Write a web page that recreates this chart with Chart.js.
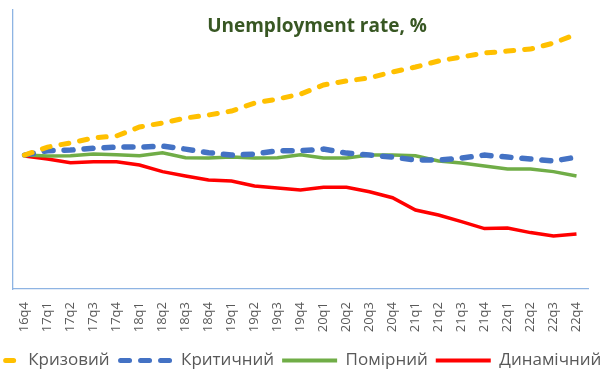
<!DOCTYPE html>
<html>
<head>
<meta charset="utf-8">
<script src="https://cdn.jsdelivr.net/npm/chart.js@4.4.1/dist/chart.umd.min.js"></script>
<style>
  html, body { margin: 0; padding: 0; background: #fff; overflow: hidden; width: 611px; height: 387px; }
  /* canvas is wider than the window so the legend can run off both edges like the original */
  #wrap { position: absolute; left: -45px; top: 0; width: 700px; height: 387px; }
</style>
</head>
<body>
<div id="wrap"><canvas id="chart" width="700" height="387"></canvas></div>
<script>
var quarters = ['16q4', '17q1', '17q2', '17q3', '17q4', '18q1', '18q2', '18q3', '18q4',
  '19q1', '19q2', '19q3', '19q4', '20q1', '20q2', '20q3', '20q4',
  '21q1', '21q2', '21q3', '21q4', '22q1', '22q2', '22q3', '22q4'];

// values (no axis labels in the original)
var crisis = [6.72, 7.12, 7.33, 7.58, 7.68, 8.13, 8.33, 8.58, 8.73, 8.93, 9.33, 9.53, 9.78,
  10.24, 10.44, 10.59, 10.89, 11.14, 11.44, 11.64, 11.84, 11.94, 12.04, 12.34, 12.79];
var critical = [6.72, 6.94, 6.97, 7.07, 7.12, 7.12, 7.17, 7.02, 6.84, 6.72, 6.77, 6.94, 6.94,
  7.02, 6.82, 6.72, 6.62, 6.47, 6.47, 6.57, 6.72, 6.62, 6.52, 6.42, 6.62];
var moderate = [6.72, 6.67, 6.69, 6.77, 6.74, 6.69, 6.84, 6.59, 6.57, 6.62, 6.57, 6.59, 6.74,
  6.57, 6.57, 6.72, 6.72, 6.69, 6.42, 6.32, 6.17, 6.02, 6.02, 5.89, 5.67];
var dynamic = [6.67, 6.52, 6.34, 6.39, 6.39, 6.22, 5.89, 5.67, 5.47, 5.42, 5.17, 5.07, 4.97,
  5.10, 5.10, 4.88, 4.58, 3.96, 3.71, 3.38, 3.03, 3.06, 2.83, 2.66, 2.76];

var axisColor = '#8EB4E3';
var textColor = '#595959';

// title sits inside the plot area in the original, so draw it by hand
var titlePlugin = {
  id: 'titleText',
  afterDraw: function(chart) {
    var ctx = chart.ctx;
    ctx.save();
    ctx.font = 'bold 19px "Open Sans"';
    ctx.fillStyle = '#385723';
    ctx.textAlign = 'center';
    ctx.textBaseline = 'middle';
    ctx.fillText('Unemployment rate, %', 362, 27);
    ctx.restore();
  }
};

// legend is not centred on the chart in the original
var legendShift = {
  id: 'legendShift',
  afterLayout: function(chart) {
    chart.legend.left -= 22;
    chart.legend.right -= 22;
  }
};

// point-style legend items lose the dataset dash, put it back
function legendLabels(chart) {
  var items = Chart.defaults.plugins.legend.labels.generateLabels(chart);
  items.forEach(function(item, i) {
    var ds = chart.data.datasets[i];
    item.lineDash = ds.borderDash || [];
    item.lineDashOffset = -3;
    item.lineCap = ds.borderCapStyle || 'butt';
    item.lineWidth = ds.borderDash ? 5 : 4;
  });
  return items;
}

var ctx = document.getElementById('chart');
var chart = new Chart(ctx, {
  type: 'line',
  data: {
    labels: quarters,
    datasets: [
      {
        label: 'Кризовий',
        data: crisis,
        borderColor: '#FFC000',
        backgroundColor: '#FFC000',
        borderWidth: 5,
        borderDash: [8, 11],
        borderCapStyle: 'round'
      },
      {
        label: 'Критичний',
        data: critical,
        borderColor: '#4472C4',
        backgroundColor: '#4472C4',
        borderWidth: 5.5,
        borderDash: [9, 11],
        borderCapStyle: 'round'
      },
      {
        label: 'Помірний',
        data: moderate,
        borderColor: '#70AD47',
        backgroundColor: '#70AD47',
        borderWidth: 3.5
      },
      {
        label: 'Динамічний',
        data: dynamic,
        borderColor: '#FF0000',
        backgroundColor: '#FF0000',
        borderWidth: 3.5
      }
    ]
  },
  options: {
    responsive: false,
    animation: false,
    devicePixelRatio: 1,
    layout: { padding: { top: 10, left: 0, right: 0, bottom: 8 } },
    elements: { point: { radius: 0 }, line: { tension: 0 } },
    plugins: {
      tooltip: { enabled: false },
      legend: {
        position: 'bottom',
        labels: {
          usePointStyle: true,
          pointStyle: 'line',
          pointStyleWidth: 55,
          boxHeight: 17,
          padding: 8,
          color: textColor,
          font: { family: 'Open Sans', size: 17 },
          generateLabels: legendLabels
        }
      }
    },
    scales: {
      x: {
        offset: true,
        grid: { display: false, drawTicks: false },
        border: { color: axisColor, width: 1.3 },
        ticks: {
          color: textColor,
          font: { family: 'Open Sans', size: 13 },
          minRotation: 90,
          maxRotation: 90,
          autoSkip: false,
          padding: 13
        },
        afterFit: function(scale) { scale.height = 55; }
      },
      y: {
        min: 0,
        max: 14,
        grid: { display: false },
        border: { color: axisColor, width: 1.3 },
        ticks: { display: false },
        afterFit: function(scale) { scale.width = 58; }
      },
      yRight: {
        position: 'right',
        grid: { display: false },
        border: { display: false },
        ticks: { display: false },
        afterFit: function(scale) { scale.width = 67; }
      }
    }
  },
  plugins: [titlePlugin, legendShift]
});
</script>
</body>
</html>
